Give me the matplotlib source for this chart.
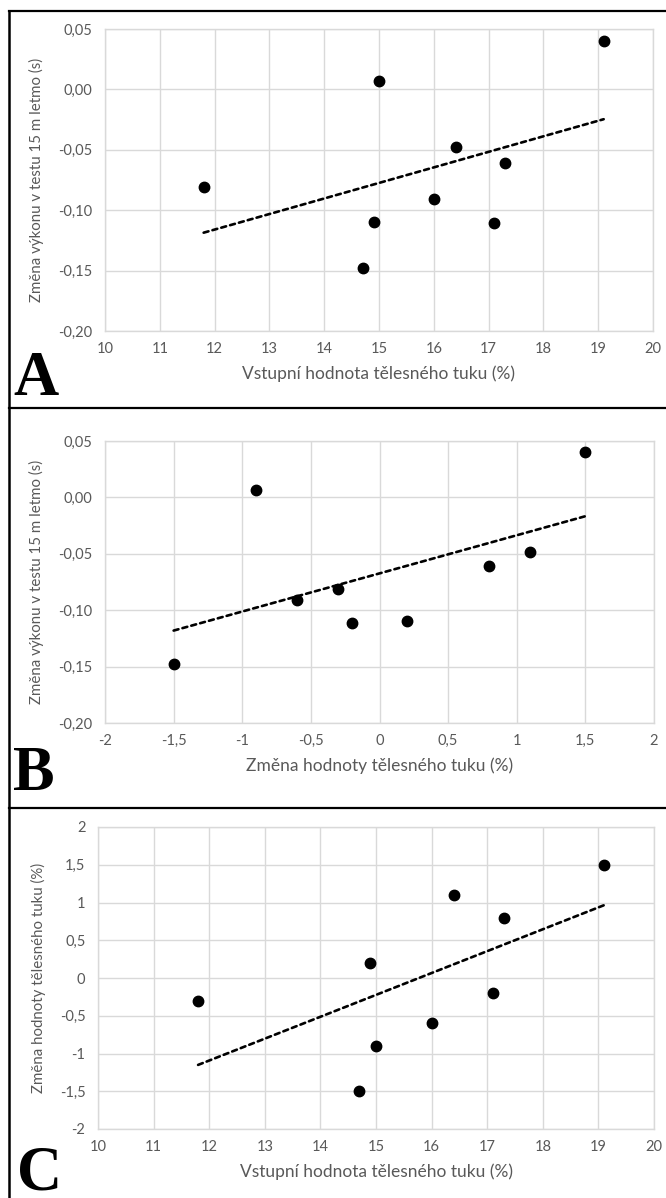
import numpy as np
import matplotlib
matplotlib.use("Agg")
import matplotlib.pyplot as plt
from matplotlib.lines import Line2D
from matplotlib.ticker import FuncFormatter, MultipleLocator

plt.rcParams['font.family'] = ['Lato', 'DejaVu Sans']
plt.rcParams['lines.scale_dashes'] = False

# Data (9 subjects)
base_fat = [11.8, 14.7, 14.9, 15.0, 16.0, 16.4, 17.1, 17.3, 19.1]       # Vstupní hodnota tělesného tuku (%)
fat_change = [-0.3, -1.5, 0.2, -0.9, -0.6, 1.1, -0.2, 0.8, 1.5]        # Změna hodnoty tělesného tuku (%)
perf_change = [-0.081, -0.148, -0.110, 0.007, -0.091, -0.048, -0.111, -0.061, 0.040]  # Změna výkonu 15 m letmo (s)

panel_letters = ["A", "B", "C"]
xlabels = ["Vstupní hodnota tělesného tuku (%)",
           "Změna hodnoty tělesného tuku (%)",
           "Vstupní hodnota tělesného tuku (%)"]
ylabels = ["Změna výkonu v testu 15 m letmo (s)",
           "Změna výkonu v testu 15 m letmo (s)",
           "Změna hodnoty tělesného tuku (%)"]

W, H = 666, 1198
fig = plt.figure(figsize=(W / 100, H / 100), dpi=100)

TXT = '#595959'
GRID = '#d9d9d9'


def fmt_dec(nd):
    def f(v, pos):
        if nd > 0:
            s = f"{v:.{nd}f}"
        else:
            s = f"{round(v, 2):g}"
        s = s.replace('.', ',')
        if s.startswith('-') and float(s.replace(',', '.').lstrip('-')) == 0:
            s = s[1:]
        return s
    return FuncFormatter(f)


def axes_px(left, right, top, bottom):
    return [left / W, 1 - bottom / H, (right - left) / W, (bottom - top) / H]


panels = [
    dict(rect=axes_px(105, 653, 29, 331), x=base_fat, y=perf_change,
         xlim=(10, 20), xstep=1, xfmt=0, ylim=(-0.20, 0.05), ystep=0.05, yfmt=2),
    dict(rect=axes_px(105, 654, 441, 723), x=fat_change, y=perf_change,
         xlim=(-2, 2), xstep=0.5, xfmt=0, ylim=(-0.20, 0.05), ystep=0.05, yfmt=2),
    dict(rect=axes_px(98, 654, 827, 1129), x=base_fat, y=fat_change,
         xlim=(10, 20), xstep=1, xfmt=0, ylim=(-2, 2), ystep=0.5, yfmt=0),
]

for i, p in enumerate(panels):
    ax = fig.add_axes(p['rect'])
    ax.set_xlim(*p['xlim'])
    ax.set_ylim(*p['ylim'])
    ax.xaxis.set_major_locator(MultipleLocator(p['xstep']))
    ax.yaxis.set_major_locator(MultipleLocator(p['ystep']))
    ax.xaxis.set_major_formatter(fmt_dec(p['xfmt']))
    ax.yaxis.set_major_formatter(fmt_dec(p['yfmt']))
    ax.grid(True, color=GRID, lw=1.0)
    ax.set_axisbelow(True)
    for s in ax.spines.values():
        s.set_color(GRID)
        s.set_linewidth(1.0)
    ax.tick_params(length=0, labelsize=10.5, colors=TXT, pad=8)
    ax.tick_params(axis='y', pad=9)
    xs = np.array(p['x'])
    ys = np.array(p['y'])
    ax.plot(xs, ys, 'o', color='black', ms=7.5, zorder=3)
    k, b = np.polyfit(xs, ys, 1)
    xx = np.array([xs.min(), xs.max()])
    ax.plot(xx, k * xx + b, color='black', lw=1.9, dashes=(3.6, 3.0),
            dash_capstyle='round', zorder=2)
    ax.set_xlabel(xlabels[i], fontsize=12.5, color=TXT, labelpad=7)
    ax.set_ylabel(ylabels[i], fontsize=10.8, color=TXT, labelpad=10)

# Panel letters
letter_pos = [(13, 395), (13, 790), (17, 1189)]
for L, (lx, ly) in zip(panel_letters, letter_pos):
    fig.text(lx / W, 1 - ly / H, L, fontsize=45, fontweight='bold',
             family='Liberation Serif', ha='left', va='baseline', color='black')

# Frame and separators
def hline(y, x0=9, x1=W):
    fig.add_artist(Line2D([x0 / W, x1 / W], [1 - y / H, 1 - y / H],
                          color='black', lw=1.6, transform=fig.transFigure))

hline(11)
hline(408, x0=9)
hline(808, x0=9)
fig.add_artist(Line2D([9 / W, 9 / W], [1 - 11 / H, 0], color='black', lw=1.8,
                      transform=fig.transFigure))

fig.savefig('out.png', dpi=100)
